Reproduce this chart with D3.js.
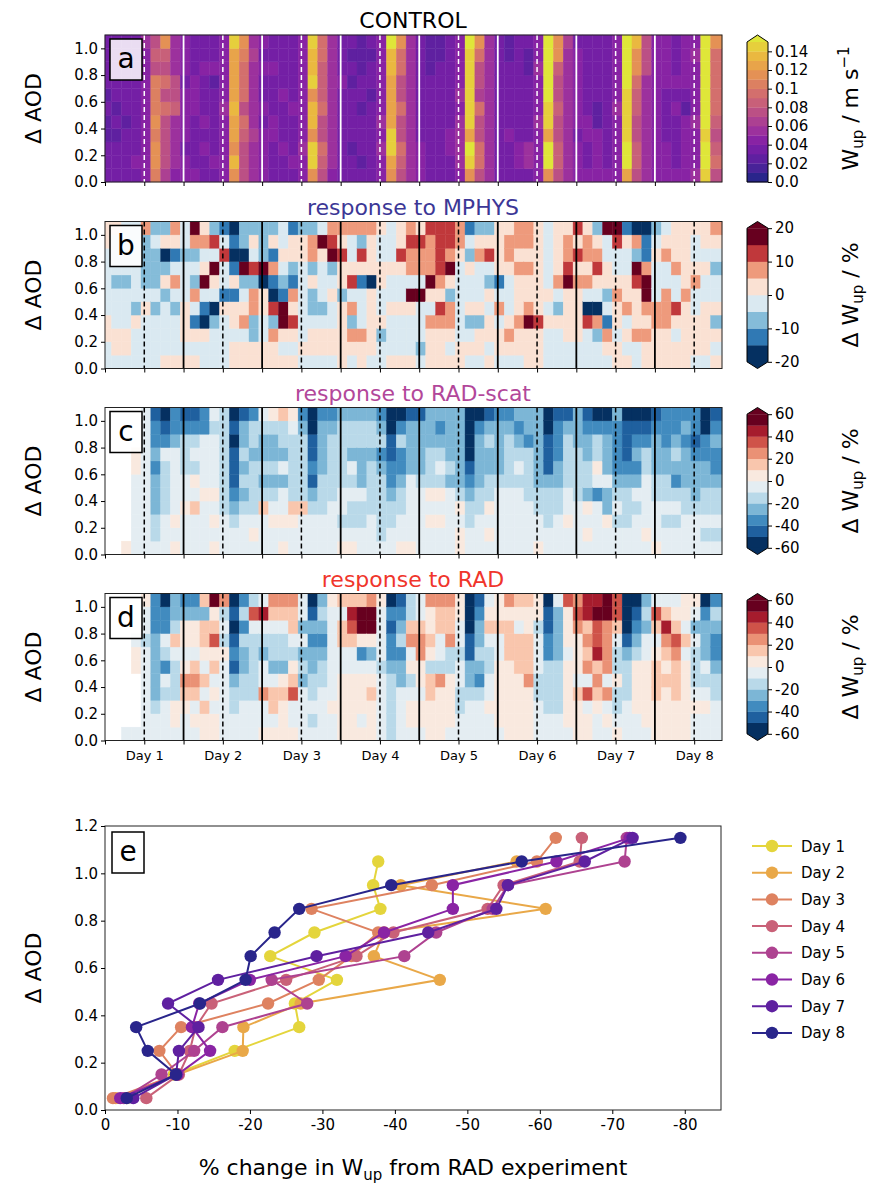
<!DOCTYPE html>
<html>
<head>
<meta charset="utf-8">
<script src="https://cdn.jsdelivr.net/npm/d3@7"></script>
<style>
  body { margin: 0; background: #fff; }
  svg text { font-family: 'DejaVu Sans', sans-serif; }
</style>
</head>
<body>
<svg id="fig" width="875" height="1184"></svg>
<script>
// each string is one 3-hourly column (bottom AOD bin first), each char the colour level read off the picture
// control: level k = k..k+1 cm/s (f = above 0.15); mphys: 5 % bins from -20; rad-scat / rad: 10 % bins from -60; '.' = no data
const controlCols = [
  '33322323333', '33323233333', '33332333333', '34333333333', '44444444445', 'abbabaaa787', '6777797978b', '45555877555',
  '44344443444', '43333444333', '33434333433', '34333332433', '44444544444', 'bdbccdcccce', '777897999ab', '55565555565',
  '44443433434', '33344333433', '33433343333', '34333433333', '44544444444', 'beebddbedde', '78977988899', '45555555555',
  '33333334333', '33233332323', '32333233222', '33333323323', '44545444444', 'bceeccccddf', '7897797799b', '55555555555',
  '44433333333', '33333333222', '33333333322', '33443333333', '45555454444', 'befceeeeeef', '7997796779b', '55555555555',
  '33333333333', '33343333322', '34433333333', '35533333223', '44445444544', 'bffceefffff', '788778778bb', '55555555556',
  '44434444443', '43344333333', '44442233333', '43333333333', '44444544444', 'cffeeeeffff', '78877889bbd', '55555555777',
  '44444444444', '44433334444', '43333434333', '44444234444', '54445444454', 'effefffffff', '7987899999b'
]
const mphysCols = [
  '33443333344', '34433323334', '34433323333', '33342333333', '33334322225', '33332322232', '43333242042', '43332353145',
  '43444333233', '43413523257', '33401374354', '33320347362', '33334133631', '44344141010', '44354327022', '44225526342',
  '44334407222', '44526015142', '43477123433', '43464512441', '34333333442', '34432242552', '34432333473', '34433432765',
  '44444244645', '34525364335', '44533314625', '34444404445', '33243344334', '43334334333', '43334334644', '43334735565',
  '32333735564', '44453475556', '44456456666', '43455247566', '44333333455', '34324334231', '34424333542', '43443423642',
  '34435314444', '34543334554', '34454445455', '44475445455', '44464444444', '33343433333', '33342354444', '33444476554',
  '33444454646', '33360354554', '33250346542', '34513244337', '44344543367', '43435443341', '33544467250', '44545775110',
  '44455333432', '44455533543', '44346335444', '44444544444', '34443354334', '34444334344', '43424332345'
]
const radScatCols = [
  '...........', '...........', '6..........', '55555566...', '55555555555', '54433323221', '55544445210', '65655555322',
  '55565544421', '55575645421', '55556555522', '65656555545', '55544444444', '55432111010', '55543434331', '56544443442',
  '55574343345', '55654343346', '65655353447', '55674444456', '55574444432', '55543121100', '55544433332', '55554444432',
  '65455444443', '65445453443', '55445333443', '55544443443', '54444432432', '55443221100', '65544322420', '65555533331',
  '55555433331', '55656444333', '55656454323', '55555343333', '66564333333', '55443210000', '55544333320', '56564433431',
  '55555433332', '55555444432', '55555454323', '55554444233', '65544333333', '55444311100', '55544332221', '55655444431',
  '55554444333', '56563443321', '55552564420', '55633533320', '55454322223', '55444321110', '55545323210', '56555544210',
  '65554433321', '55454433222', '55454234322', '55544333232', '55543332122', '54544332200', '54544322321'
]
const radCols = [
  '...........', '...........', '5..........', '5....665...', '55555554556', '55433333222', '55545245220', '56644457433',
  '55678656632', '56578756632', '66757567737', '6656576976b', '55555564548', '55443121010', '55544334242', '55544444594',
  '655855345a5', '65775344578', '66676344578', '65597645778', '55553435355', '54544332310', '55554432343', '55655555556',
  '66666557757', '666665579a7', '65666526bb7', '66676536bb8', '55555455556', '44444322120', '55553324321', '56654658744',
  '56656688755', '66677467668', '66668455778', '56666448778', '55445545566', '55543311000', '55542343321', '55655445765',
  '56666655766', '66666677768', '66666777567', '66668777667', '55544555466', '55444422110', '55444433335', '56666656669',
  '66675666898', '665958787aa', '556787a99ba', '565858888bb', '65446445799', '55544431000', '55666643210', '56666655343',
  '66677765795', '66667678a75', '66677789765', '66666657566', '55654445356', '55654533320', '55544322342'
]

// panel e: % change in W_up per AOD bin, one list per day
const aodLevels = [0.05, 0.15, 0.25, 0.35, 0.45, 0.55, 0.65, 0.75, 0.85, 0.95, 1.05, 1.15]
const day1 = [-3.0, -9.5, -17.9, -26.8, -26.2, -32.0, -22.8, -28.9, -38.0, -37.0, -37.7, null]
const day2 = [-1.5, -10.0, -19.0, -19.1, -27.0, -46.2, -37.1, -38.5, -60.8, -40.8, -56.8, null]
const day3 = [-1.1, -10.0, -7.5, -10.5, -22.5, -29.5, -34.0, -37.7, -28.5, -45.1, -59.6, -62.2]
const day4 = [-5.7, -10.2, -11.7, -12.5, -14.7, -25.0, -34.7, -39.8, -52.8, -55.0, -65.5, -65.8]
const day5 = [-2.6, -7.8, -12.3, -16.2, -27.9, -23.0, -41.3, -45.7, -53.5, -55.6, -71.7, -72.0]
const day6 = [-2.1, -10.0, -14.5, -12.0, -13.0, -20.0, -33.2, -38.5, -48.0, -48.0, -62.3, -72.4]
const day7 = [-3.9, -9.8, -10.2, -12.9, -8.7, -15.6, -29.2, -44.6, -54.0, -55.6, -66.2, -72.8]
const day8 = [-3.0, -9.8, -5.9, -4.3, -13.1, -19.4, -20.1, -23.4, -26.8, -39.5, -57.5, -79.4]
const dayNames = ['Day 1', 'Day 2', 'Day 3', 'Day 4', 'Day 5', 'Day 6', 'Day 7', 'Day 8']

// time axis (hours) and AOD bin edges
const timeEdges = [0].concat(d3.range(2, 186, 3), [188.5])
const aodEdges = d3.range(12).map(i => i / 10)

const svg = d3.select('#fig')
const panelH = 147
const x = d3.scaleLinear().domain([0, 188.5]).range([105, 722])

// plasma in the figure is drawn semi-transparent, which dulls the dark end
const soften = c => d3.interpolateRgb(c, '#9a9a9a')(0.2)
const level = ch => ch === '.' ? null : parseInt(ch, 16)

const controlBounds = d3.range(16).map(i => i / 100)
const controlColor = d3.scaleThreshold()
  .domain(controlBounds.slice(1))
  .range(d3.range(16).map(i => soften(d3.interpolatePlasma(i / 15))))
const mphysBounds = d3.range(-20, 21, 5)
const mphysColor = d3.scaleThreshold()
  .domain(mphysBounds.slice(1, -1))
  .range(d3.range(8).map(i => d3.interpolateRdBu(1 - i / 7)))
const radBounds = d3.range(-60, 61, 10)
const radColor = d3.scaleThreshold()
  .domain(radBounds.slice(1, -1))
  .range(d3.range(12).map(i => d3.interpolateRdBu(1 - i / 11)))

const panels = [
  { key: 'a', top: 35, cols: controlCols, value: l => (l + 0.5) / 100, color: controlColor, lineColor: '#fff',
    title: 'CONTROL', titleColor: '#000', bounds: controlBounds, extLow: false,
    ticks: [0, 0.02, 0.04, 0.06, 0.08, 0.1, 0.12, 0.14], fmt: d => d === 0 ? '0.0' : String(+d.toFixed(2)), unit: 'ms' },
  { key: 'b', top: 221.5, cols: mphysCols, value: l => -20 + 5 * (l + 0.5), color: mphysColor, lineColor: '#000',
    title: 'response to MPHYS', titleColor: '#3c3796', bounds: mphysBounds, extLow: true,
    ticks: [-20, -10, 0, 10, 20], fmt: String, unit: 'pct' },
  { key: 'c', top: 407.5, cols: radScatCols, value: l => -60 + 10 * (l + 0.5), color: radColor, lineColor: '#000',
    title: 'response to RAD-scat', titleColor: '#b2479a', bounds: radBounds, extLow: true,
    ticks: [-60, -40, -20, 0, 20, 40, 60], fmt: String, unit: 'pct' },
  { key: 'd', top: 593.5, cols: radCols, value: l => -60 + 10 * (l + 0.5), color: radColor, lineColor: '#000',
    title: 'response to RAD', titleColor: '#f0352b', bounds: radBounds, extLow: true,
    ticks: [-60, -40, -20, 0, 20, 40, 60], fmt: String, unit: 'pct' }
]

function styleAxis(g, size) {
  g.attr('font-size', size).attr('font-family', 'DejaVu Sans')
  g.selectAll('line').attr('stroke', '#000').attr('stroke-width', 1)
  g.select('.domain').remove()
}

function panelLabel(letter, bx, by) {
  svg.append('rect').attr('x', bx).attr('y', by).attr('width', 32).attr('height', 41)
    .attr('fill', '#fff').attr('fill-opacity', 0.85).attr('stroke', '#000').attr('stroke-width', 1.5)
  svg.append('text').attr('x', bx + 16).attr('y', by + 29).attr('text-anchor', 'middle')
    .attr('font-size', 28).text(letter)
}

function yLabel(cy) {
  svg.append('text').attr('transform', `translate(41,${cy}) rotate(-90)`)
    .attr('text-anchor', 'middle').attr('font-size', 22).text('Δ AOD')
}

function heatmap(p, last) {
  const y = d3.scaleLinear().domain([0, 1.1]).range([p.top + panelH, p.top])
  const cells = []
  p.cols.forEach((s, ci) => [...s].slice(0, 11).forEach((ch, ri) => {
    const l = level(ch)
    if (l !== null) cells.push({ t0: timeEdges[ci], t1: timeEdges[ci + 1], a0: aodEdges[ri], a1: aodEdges[ri + 1], v: p.value(l) })
  }))

  const g = svg.append('g')
  g.selectAll('rect.cell')
    .data(cells)
    .enter()
      .append('rect')
        .attr('class', 'cell')
        .attr('x', d => x(d.t0))
        .attr('width', d => x(d.t1) - x(d.t0))
        .attr('y', d => y(d.a1))
        .attr('height', d => y(d.a0) - y(d.a1))
        .attr('fill', d => p.color(d.v))
        .attr('stroke', d => p.color(d.v))
        .attr('stroke-width', 0.4)

  // day boundaries (solid) and middays (dashed)
  g.selectAll('line.day')
    .data(d3.range(24, 188, 24))
    .enter()
      .append('line')
        .attr('x1', d => x(d)).attr('x2', d => x(d))
        .attr('y1', p.top).attr('y2', p.top + panelH)
        .attr('stroke', p.lineColor).attr('stroke-width', 1.8)
  g.selectAll('line.noon')
    .data(d3.range(12, 188, 24))
    .enter()
      .append('line')
        .attr('x1', d => x(d)).attr('x2', d => x(d))
        .attr('y1', p.top).attr('y2', p.top + panelH)
        .attr('stroke', p.lineColor).attr('stroke-width', 1.5)
        .attr('stroke-dasharray', '5,3')

  svg.append('rect').attr('x', 105).attr('y', p.top).attr('width', 617).attr('height', panelH)
    .attr('fill', 'none').attr('stroke', '#222').attr('stroke-width', 1)

  const xa = svg.append('g').attr('transform', `translate(0,${p.top + panelH})`)
    .call(d3.axisBottom(x).tickValues(d3.range(0, 181, 12)).tickSize(4).tickPadding(6)
      .tickFormat(d => last && d % 24 === 12 ? `Day ${(d + 12) / 24}` : ''))
  styleAxis(xa, 13)

  const ya = svg.append('g').attr('transform', 'translate(105,0)')
    .call(d3.axisLeft(y).tickValues([0, 0.2, 0.4, 0.6, 0.8, 1.0]).tickSize(4).tickFormat(d3.format('.1f')))
  styleAxis(ya, 15)

  svg.append('text').attr('x', 413).attr('y', p.top - 7).attr('text-anchor', 'middle')
    .attr('font-size', 22).attr('fill', p.titleColor).text(p.title)

  panelLabel(p.key, 110, p.top + 4)
  yLabel(p.top + panelH / 2)
  colorbar(p)
}

function colorbar(p) {
  const cbx = 747, cbw = 21
  const nExt = p.extLow ? 2 : 1
  const inner = panelH / (1 + 0.05 * nExt)
  const ext = inner * 0.05
  const bottom = p.top + panelH - (p.extLow ? ext : 0)
  const lo = p.bounds[0], hi = p.bounds[p.bounds.length - 1]
  const cy = d3.scaleLinear().domain([lo, hi]).range([bottom, bottom - inner])
  const g = svg.append('g')

  g.selectAll('rect')
    .data(d3.pairs(p.bounds))
    .enter()
      .append('rect')
        .attr('x', cbx).attr('width', cbw)
        .attr('y', d => cy(d[1])).attr('height', d => cy(d[0]) - cy(d[1]) + 0.3)
        .attr('fill', d => p.color((d[0] + d[1]) / 2))

  const tipTop = cy(hi) - ext
  g.append('path').attr('d', `M${cbx},${cy(hi)}L${cbx + cbw / 2},${tipTop}L${cbx + cbw},${cy(hi)}Z`)
    .attr('fill', p.color(hi + 1))
  let outline = `M${cbx},${cy(lo)}L${cbx},${cy(hi)}L${cbx + cbw / 2},${tipTop}L${cbx + cbw},${cy(hi)}L${cbx + cbw},${cy(lo)}`
  if (p.extLow) {
    g.append('path').attr('d', `M${cbx},${cy(lo)}L${cbx + cbw / 2},${cy(lo) + ext}L${cbx + cbw},${cy(lo)}Z`)
      .attr('fill', p.color(lo - 1))
    outline += `L${cbx + cbw / 2},${cy(lo) + ext}Z`
  } else {
    outline += 'Z'
  }
  g.append('path').attr('d', outline).attr('fill', 'none').attr('stroke', '#000').attr('stroke-width', 1)

  const ax = g.append('g').attr('transform', `translate(${cbx + cbw},0)`)
    .call(d3.axisRight(cy).tickValues(p.ticks).tickSize(4).tickFormat(p.fmt))
  styleAxis(ax, 15)

  const label = svg.append('text')
    .attr('transform', `translate(858,${p.top + panelH / 2}) rotate(-90)`)
    .attr('text-anchor', 'middle').attr('font-size', 22)
  if (p.unit === 'ms') {
    label.append('tspan').text('W')
    label.append('tspan').attr('font-size', 15).attr('dy', 5).text('up')
    label.append('tspan').attr('dy', -5).text(' / m s')
    label.append('tspan').attr('font-size', 15).attr('dy', -9).text('−1')
  } else {
    label.append('tspan').text('Δ W')
    label.append('tspan').attr('font-size', 15).attr('dy', 5).text('up')
    label.append('tspan').attr('dy', -5).text(' / %')
  }
}

panels.forEach((p, i) => heatmap(p, i === panels.length - 1))

// ---- panel e ----
const ex = d3.scaleLinear().domain([0, -85]).range([105, 721])
const ey = d3.scaleLinear().domain([0, 1.2]).range([1110, 826])
const days = [day1, day2, day3, day4, day5, day6, day7, day8]
const dayColor = i => soften(d3.interpolatePlasma(0.95 * (7 - i) / 7))

const line = d3.line()
  .defined(d => d[0] !== null)
  .x(d => ex(d[0]))
  .y(d => ey(d[1]))

const eg = svg.append('g')
days.forEach((vals, i) => {
  const pts = vals.map((v, j) => [v, aodLevels[j]])
  const g = eg.append('g')
  g.append('path').attr('d', line(pts)).attr('fill', 'none')
    .attr('stroke', dayColor(i)).attr('stroke-width', 2)
  g.selectAll('circle')
    .data(pts.filter(d => d[0] !== null))
    .enter()
      .append('circle')
        .attr('cx', d => ex(d[0]))
        .attr('cy', d => ey(d[1]))
        .attr('r', 6.2)
        .attr('fill', dayColor(i))
})

svg.append('rect').attr('x', 105).attr('y', 826).attr('width', 616).attr('height', 284)
  .attr('fill', 'none').attr('stroke', '#222').attr('stroke-width', 1)

const exa = svg.append('g').attr('transform', 'translate(0,1110)')
  .call(d3.axisBottom(ex).tickValues(d3.range(0, -81, -10)).tickSize(4).tickPadding(5).tickFormat(String))
styleAxis(exa, 15)
const eya = svg.append('g').attr('transform', 'translate(105,0)')
  .call(d3.axisLeft(ey).tickValues(d3.range(0, 1.21, 0.2)).tickSize(4).tickFormat(d3.format('.1f')))
styleAxis(eya, 15)

panelLabel('e', 112, 832)
yLabel(968)

const xl = svg.append('text').attr('x', 413).attr('y', 1175).attr('text-anchor', 'middle').attr('font-size', 22)
xl.append('tspan').text('% change in W')
xl.append('tspan').attr('font-size', 15).attr('dy', 5).text('up')
xl.append('tspan').attr('dy', -5).text(' from RAD experiment')

// legend
const lg = svg.append('g')
  .selectAll('g')
  .data(dayNames)
  .enter()
    .append('g')
      .attr('transform', (d, i) => `translate(752,${846 + i * 26.7})`)
lg.append('line').attr('x1', 0).attr('x2', 40).attr('stroke', (d, i) => dayColor(i)).attr('stroke-width', 2)
lg.append('circle').attr('cx', 20).attr('r', 6.2).attr('fill', (d, i) => dayColor(i))
lg.append('text').attr('x', 49).attr('y', 5.5).attr('font-size', 15).text(d => d)
</script>
</body>
</html>
